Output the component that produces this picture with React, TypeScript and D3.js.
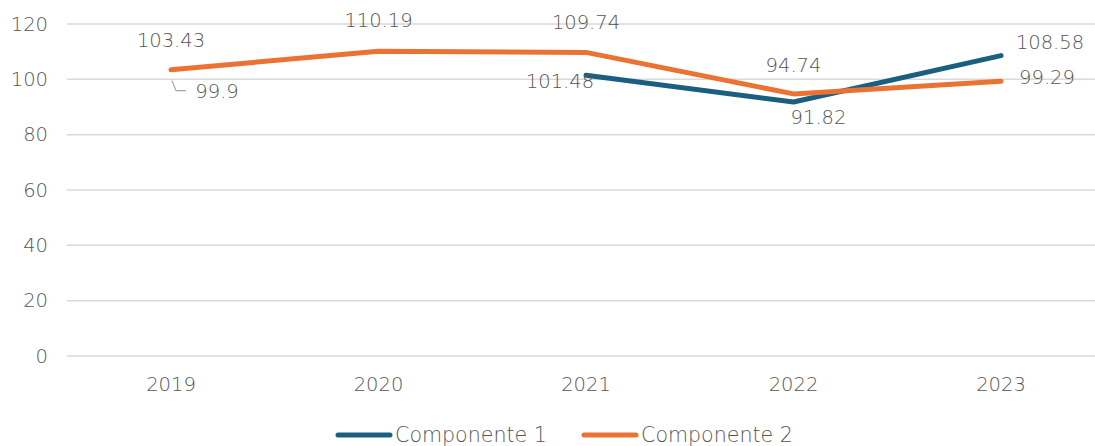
import React from "react";
import * as d3 from "d3";

const years = ["2019", "2020", "2021", "2022", "2023"];
const componente1: (number | null)[] = [99.9, null, 101.48, 91.82, 108.58];
const componente2: number[] = [103.43, 110.19, 109.74, 94.74, 99.29];
const yTicks = [0, 20, 40, 60, 80, 100, 120];

const W = 1095;
const H = 446;
const FONT = "'DejaVu Sans', 'Open Sans', sans-serif";
const FS = 19.5;
const TEXT = "#555555";
const BLUE = "#1a5f80";
const ORANGE = "#ea7334";

// label offsets relative to each point (dx, dy)
const labels1: ([number, number] | null)[] = [[46, 12], null, [-26, 6], [25, 15], [49, -13]];
const labels2: [number, number][] = [[0, -30], [0, -31], [0, -30], [0, -29], [46, -4]];

export default function App() {
  const x = d3.scaleBand<string>().domain(years).range([67.25, 67.25 + 207.5 * 5]);
  const y = d3.scaleLinear().domain([0, 120]).range([356, 24]);
  const cx = (i: number) => (x(years[i]) as number) + x.bandwidth() / 2;

  // a point is only joined when it has a defined neighbour
  const joined = (arr: (number | null)[]) => (d: number | null, i: number) =>
    d !== null && (arr[i - 1] != null || arr[i + 1] != null);

  const line1 = d3
    .line<number | null>()
    .defined(joined(componente1))
    .x((_, i) => cx(i))
    .y((d) => y(d as number));
  const line2 = d3
    .line<number>()
    .x((_, i) => cx(i))
    .y((d) => y(d));

  const p0 = componente1[0] as number;
  const lead = `M${cx(0) + 1},${y(p0) + 1} L${cx(0) + 5},${y(p0) + 11} L${cx(0) + 15},${y(p0) + 11}`;

  const textProps = { fontSize: FS, fill: TEXT, fontWeight: 300 };
  const legendProps = { ...textProps, fontSize: 20.6 };

  return (
    <svg width={W} height={H} style={{ position: "absolute", left: 0, top: 0 }} fontFamily={FONT}>
      <rect width={W} height={H} fill="#fff" />
      {yTicks.map((t) => (
        <g key={t}>
          <line x1={67} x2={W} y1={y(t)} y2={y(t)} stroke="#d9d9d9" strokeWidth={1.5} />
          <text x={48} y={y(t)} dy="0.35em" textAnchor="end" {...textProps}>
            {t}
          </text>
        </g>
      ))}
      {years.map((yr, i) => (
        <text key={yr} x={cx(i)} y={384} dy="0.35em" textAnchor="middle" {...textProps}>
          {yr}
        </text>
      ))}
      <path d={line1(componente1) as string} fill="none" stroke={BLUE} strokeWidth={5} strokeLinecap="round" strokeLinejoin="round" />
      <path d={line2(componente2) as string} fill="none" stroke={ORANGE} strokeWidth={5} strokeLinecap="round" strokeLinejoin="round" />
      <path d={lead} fill="none" stroke="#a6a6a6" strokeWidth={1.2} />
      {componente2.map((v, i) => (
        <text key={"l2" + i} x={cx(i) + labels2[i][0]} y={y(v) + labels2[i][1]} dy="0.35em" textAnchor="middle" {...textProps}>
          {v}
        </text>
      ))}
      {componente1.map((v, i) =>
        v === null || !labels1[i] ? null : (
          <text key={"l1" + i} x={cx(i) + labels1[i]![0]} y={y(v) + labels1[i]![1]} dy="0.35em" textAnchor="middle" {...textProps}>
            {v}
          </text>
        )
      )}
      <g>
        <line x1={338} x2={390} y1={435} y2={435} stroke={BLUE} strokeWidth={5} strokeLinecap="round" />
        <text x={395} y={435} dy="0.35em" {...legendProps}>Componente 1</text>
        <line x1={584} x2={636} y1={435} y2={435} stroke={ORANGE} strokeWidth={5} strokeLinecap="round" />
        <text x={641} y={435} dy="0.35em" {...legendProps}>Componente 2</text>
      </g>
    </svg>
  );
}
